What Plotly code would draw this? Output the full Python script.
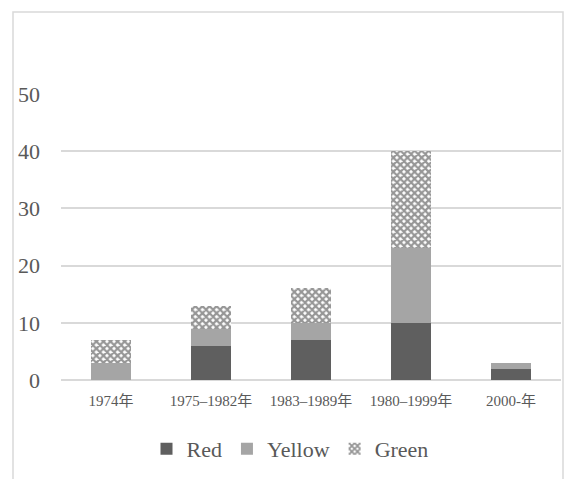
import plotly.graph_objects as go

# Period categories and stacked counts per colour group
periods = ["1974年", "1975–1982年", "1983–1989年", "1980–1999年", "2000-年"]
red = [0, 6, 7, 10, 2]
yellow = [3, 3, 3, 13, 1]
green = [4, 4, 6, 17, 0]
y_ticks = [0, 10, 20, 30, 40, 50]

FONT = "'Liberation Serif', 'DejaVu Serif', 'Noto Sans CJK JP', serif"
TEXT = "#595959"
GRID = "#d9d9d9"

fig = go.Figure()
fig.add_trace(go.Bar(name="Red", x=periods, y=red, marker=dict(color="#5f5f5f", line=dict(width=0))))
fig.add_trace(go.Bar(name="Yellow", x=periods, y=yellow, marker=dict(color="#a5a5a5", line=dict(width=0))))
fig.add_trace(go.Bar(
    name="Green", x=periods, y=green,
    marker=dict(
        color="#ffffff",
        line=dict(width=0),
        pattern=dict(shape="x", fgcolor="#2e2e2e", bgcolor="#ffffff", size=5, solidity=0.7, fillmode="overlay"),
    ),
))

# outer chart frame
fig.add_shape(type="rect", xref="paper", yref="paper",
              x0=-0.096, x1=1.004, y0=-0.4, y1=1.287,
              line=dict(color=GRID, width=1.5), fillcolor="rgba(0,0,0,0)", layer="below")

fig.update_layout(
    width=567, height=479,
    margin=dict(l=61, r=6, t=94, b=99),
    barmode="stack",
    bargap=0.6,
    paper_bgcolor="white",
    plot_bgcolor="white",
    font=dict(family=FONT, color=TEXT),
    showlegend=True,
    legend=dict(
        orientation="h", x=0.458, xanchor="center", y=-0.241, yanchor="middle",
        font=dict(family=FONT, size=22, color=TEXT), traceorder="normal",
    ),
    xaxis=dict(
        showgrid=False, showline=False, zeroline=False,
        tickfont=dict(family=FONT, size=15, color=TEXT), ticklabelstandoff=10,
    ),
    yaxis=dict(
        range=[0, 50], tickvals=y_ticks, showgrid=True, gridcolor=GRID, gridwidth=1.5,
        zeroline=True, zerolinecolor=GRID, zerolinewidth=1.5, showline=False,
        tickfont=dict(family=FONT, size=22, color=TEXT), ticklabelstandoff=20,
    ),
)

fig.write_html("out.html")
